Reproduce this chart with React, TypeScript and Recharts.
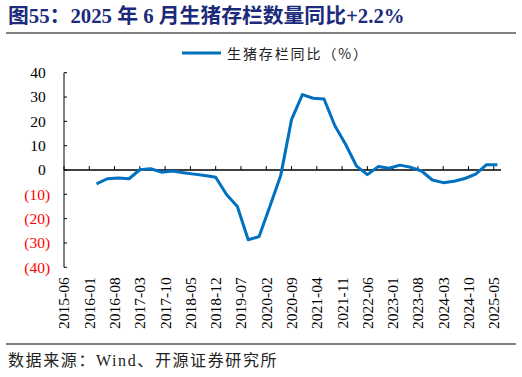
import React from 'react';
import { LineChart, Line, XAxis, YAxis, ReferenceLine, Legend } from 'recharts';

// Quarter-end observations (生猪存栏同比, %)
const quarterLabels = [
  '2016-03', '2016-06', '2016-09', '2016-12',
  '2017-03', '2017-06', '2017-09', '2017-12',
  '2018-03', '2018-06', '2018-09', '2018-12',
  '2019-03', '2019-06', '2019-09', '2019-12',
  '2020-03', '2020-06', '2020-09', '2020-12',
  '2021-03', '2021-06', '2021-09', '2021-12',
  '2022-03', '2022-06', '2022-09', '2022-12',
  '2023-03', '2023-06', '2023-09', '2023-12',
  '2024-03', '2024-06', '2024-09', '2024-12',
  '2025-03', '2025-06',
];
const hogYoY = [
  -5.7, -3.6, -3.3, -3.6,
  0.1, 0.5, -0.9, -0.4,
  -1.1, -1.7, -2.3, -3.0,
  -10.1, -15.0, -28.7, -27.4,
  -15.0, -2.3, 20.7, 31.0,
  29.5, 29.2, 18.2, 10.5,
  1.6, -1.9, 1.4, 0.7,
  2.0, 1.1, -0.4, -4.1,
  -5.2, -4.6, -3.5, -1.7,
  2.2, 2.2,
];

// Monthly category axis 2015-06 .. 2025-07
const axisStartYear = 2015;
const axisStartMonth = 6;
const axisMonthCount = 122;
const months: string[] = Array.from({ length: axisMonthCount }, (_, i) => {
  const t = axisStartYear * 12 + (axisStartMonth - 1) + i;
  return `${Math.floor(t / 12)}-${String((t % 12) + 1).padStart(2, '0')}`;
});

const tickLabels = [
  '2015-06', '2016-01', '2016-08', '2017-03', '2017-10', '2018-05',
  '2018-12', '2019-07', '2020-02', '2020-09', '2021-04', '2021-11',
  '2022-06', '2023-01', '2023-08', '2024-03', '2024-10', '2025-05',
];
const yTicks = [40, 30, 20, 10, 0, -10, -20, -30, -40];

const seriesName = '生猪存栏同比（%）';
const titleText = '图55：2025 年 6 月生猪存栏数量同比+2.2%';
const sourceText = '数据来源：Wind、开源证券研究所';

const data = months.map((m) => {
  const idx = quarterLabels.indexOf(m);
  return { month: m, value: idx >= 0 ? hogYoY[idx] : null };
});

const SERIF = '"Liberation Serif", "Times New Roman", "Noto Sans CJK SC", serif';
const CJK = '"Noto Sans CJK SC", "Liberation Serif", sans-serif';

const YTick = (props: any) => {
  const { x, y, payload } = props;
  const v = payload.value as number;
  const neg = v < 0;
  return (
    <text
      x={x + (neg ? 4.5 : 0)}
      y={y}
      dy="0.35em"
      textAnchor="end"
      fill={neg ? '#FF0000' : '#000000'}
      fontFamily={SERIF}
      fontSize={15.5}
    >
      {neg ? `(${-v})` : `${v}`}
    </text>
  );
};

const XTick = (props: any) => {
  const { x, y, payload } = props;
  return (
    <text
      x={x}
      y={y}
      dy="0.35em"
      transform={`rotate(-90, ${x}, ${y})`}
      textAnchor="end"
      fill="#000000"
      fontFamily={SERIF}
      fontSize={15.5}
    >
      {payload.value}
    </text>
  );
};

const LegendContent = (props: any) => {
  const item = (props.payload && props.payload[0]) || { value: seriesName, color: '#0070C0' };
  return (
    <div style={{ display: 'flex', alignItems: 'center', height: 18 }}>
      <svg width={39} height={18} style={{ display: 'block' }}>
        <line x1={0} y1={9} x2={39} y2={9} stroke={item.color} strokeWidth={3} />
      </svg>
      <span
        style={{
          marginLeft: 6,
          fontFamily: CJK,
          fontSize: 14,
          letterSpacing: 1.9,
          color: '#222222',
          whiteSpace: 'nowrap',
          lineHeight: '18px',
        }}
      >
        {item.value}
      </span>
    </div>
  );
};

export default function App() {
  return (
    <div style={{ position: 'absolute', left: 0, top: 0, width: 522, height: 377, background: '#ffffff', overflow: 'hidden' }}>
      <div
        style={{
          position: 'absolute',
          left: 8,
          top: 4,
          fontFamily: SERIF,
          fontWeight: 'bold',
          fontSize: 20.8,
          lineHeight: '24px',
          color: '#1B2A7A',
          whiteSpace: 'nowrap',
        }}
      >
        {titleText}
      </div>
      <div style={{ position: 'absolute', left: 6, top: 32, width: 510, height: 2, background: '#808080' }} />

      <div style={{ position: 'absolute', left: 0, top: 0 }}>
        <LineChart
          width={522}
          height={377}
          data={data}
          margin={{ top: 72.7, right: 21, bottom: 49.7, left: 0 }}
        >
          <XAxis
            dataKey="month"
            ticks={tickLabels}
            interval={0}
            tickSize={0}
            tickMargin={10}
            axisLine={false}
            tickLine={false}
            height={60}
            tick={<XTick />}
          />
          <YAxis
            domain={[-40, 40]}
            ticks={yTicks}
            interval={0}
            width={64}
            tickSize={-3}
            tickMargin={21.3}
            axisLine={{ stroke: '#000000', strokeWidth: 1 }}
            tickLine={{ stroke: '#000000', strokeWidth: 1 }}
            tick={<YTick />}
          />
          <ReferenceLine y={0} stroke="#000000" strokeWidth={1.3} />
          {tickLabels.map((t) => (
            <ReferenceLine
              key={t}
              segment={[{ x: t, y: 0 }, { x: t, y: 1.6 }]}
              stroke="#000000"
              strokeWidth={1}
            />
          ))}
          <Legend
            layout="horizontal"
            verticalAlign="middle"
            align="center"
            content={<LegendContent />}
            wrapperStyle={{ position: 'absolute', left: 182, top: 44, width: 230, height: 18 }}
          />
          <Line
            type="linear"
            dataKey="value"
            name={seriesName}
            stroke="#0070C0"
            strokeWidth={3}
            dot={false}
            activeDot={false}
            connectNulls
            strokeLinejoin="round"
            isAnimationActive={false}
          />
        </LineChart>
      </div>

      <div style={{ position: 'absolute', left: 6, top: 343, width: 510, height: 2, background: '#808080' }} />
      <div
        style={{
          position: 'absolute',
          left: 8,
          top: 350,
          fontFamily: SERIF,
          fontSize: 16,
          letterSpacing: 1.6,
          lineHeight: '22px',
          color: '#222222',
          whiteSpace: 'nowrap',
        }}
      >
        {sourceText}
      </div>
    </div>
  );
}
